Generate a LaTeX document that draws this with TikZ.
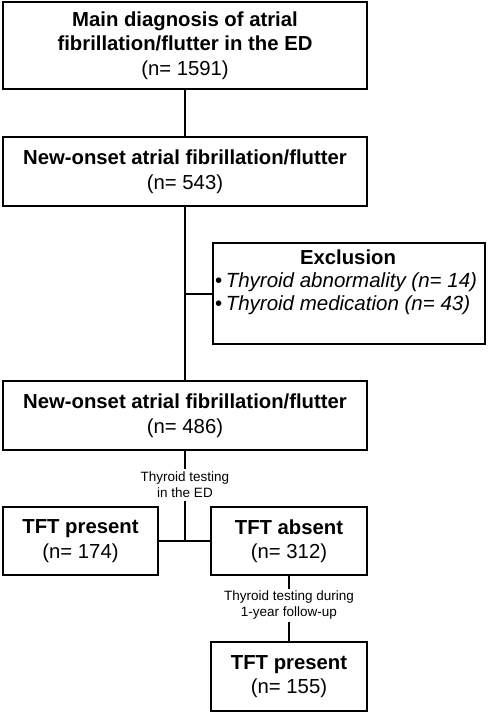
\documentclass[tikz,border=0pt]{standalone}
\usepackage{fontspec}
\setmainfont{Liberation Sans}
\begin{document}
\begin{tikzpicture}[x=1pt,y=-1pt,
  box/.style={draw, line width=2pt, align=center, inner sep=0pt, font=\fontsize{20.3}{24.5}\selectfont},
  conn/.style={line width=2pt},
  lab/.style={align=center, font=\fontsize{13.5}{16}\selectfont, inner sep=2.5pt}]
\useasboundingbox (0,0) rectangle (487,714);
\node[box, minimum width=364pt, minimum height=87pt] (b1) at (185,45.5)
  {\textbf{Main diagnosis of atrial}\\\textbf{fibrillation/flutter in the ED}\\(n= 1591)};
\node[box, minimum width=364pt, minimum height=69pt] (b2) at (185,171.5)
  {\textbf{New-onset atrial fibrillation/flutter}\\(n= 543)};
\node[box, minimum width=272pt, minimum height=101pt] (ex) at (349,293.5) {};
\node[font=\fontsize{20.3}{24}\selectfont\bfseries, inner sep=0pt] (ext) at (348,257) {Exclusion};
\node[font=\fontsize{20.5}{23}\selectfont, align=left, anchor=west, inner sep=0pt] (exl) at (215,293.5)
  {•\,\textit{Thyroid abnormality (n= 14)}\\•\,\textit{Thyroid medication (n= 43)}};
\node[box, minimum width=364pt, minimum height=69pt] (b3) at (185,415.5)
  {\textbf{New-onset atrial fibrillation/flutter}\\(n= 486)};
\node[lab] (l1) at (185,485) {Thyroid testing\\in the ED};
\node[box, minimum width=155pt, minimum height=68pt] (tp) at (80.5,541)
  {\textbf{TFT present}\\(n= 174)};
\node[box, minimum width=156pt, minimum height=68pt] (ta) at (289,541)
  {\textbf{TFT absent}\\(n= 312)};
\node[lab] (l2) at (289,605.5) {Thyroid testing during\\1-year follow-up};
\node[box, minimum width=156pt, minimum height=69pt] (last) at (289,676.5)
  {\textbf{TFT present}\\(n= 155)};
\draw[conn] (b1.south) -- (b2.north);
\draw[conn] (b2.south) -- (b3.north);
\draw[conn] (ex.west -| b2.south) -- (ex.west);
\draw[conn] (b3.south) -- (l1.north);
\draw[conn] (l1.south) -- (l1.south |- tp.east);
\draw[conn] (tp.east) -- (ta.west);
\draw[conn] (ta.south) -- (l2.north);
\draw[conn] (l2.south) -- (last.north);
\end{tikzpicture}
\end{document}
